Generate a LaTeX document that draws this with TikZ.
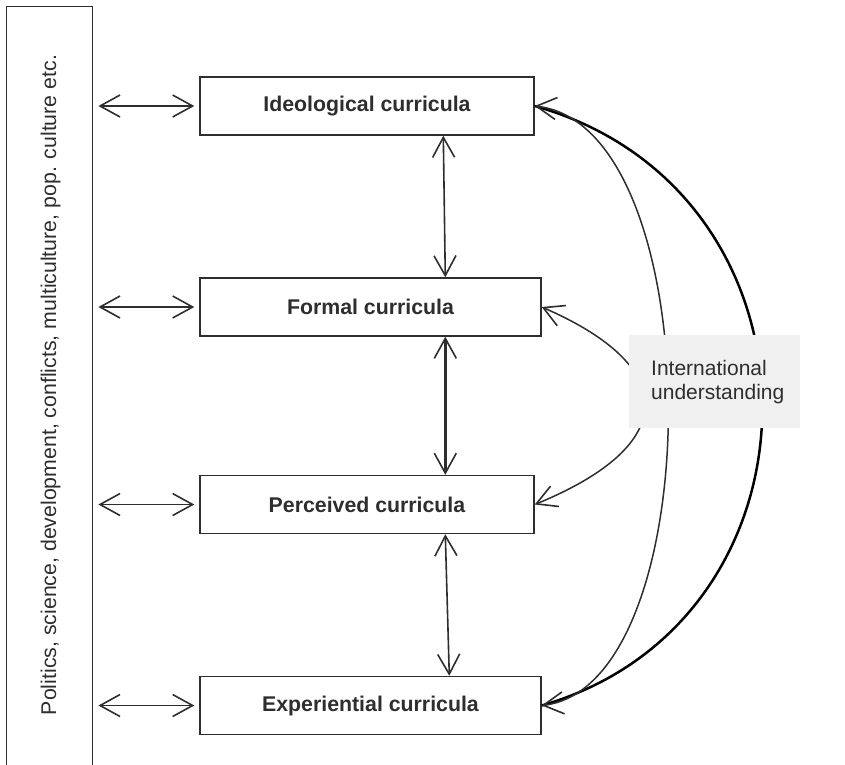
\documentclass[tikz,border=0pt]{standalone}
\usepackage{fontspec}
\setmainfont{Liberation Sans}
\usetikzlibrary{arrows.meta}
\definecolor{ink}{HTML}{2E2E2E}
\definecolor{boxgray}{HTML}{F0F0F0}
\begin{document}
\begin{tikzpicture}[x=1pt,y=-1pt,
  cbox/.style={draw=ink, line width=1.4pt, fill=white, minimum height=58pt, inner sep=0pt,
    font=\fontsize{21.3}{24}\selectfont\bfseries, text=ink},
  barbs/.style={{Straight Barb[length=20pt,width=22pt,line width=1.6pt]}-{Straight Barb[length=20pt,width=22pt,line width=1.6pt]}},
  dblarrow/.style={draw=ink, line width=1.6pt, barbs},
  thinarc/.style={draw=ink, line width=1.5pt, barbs},
  thickarc/.style={draw=black, line width=2.5pt},
]
\useasboundingbox (0,0) rectangle (845,764);

% context box
\node[draw=ink, line width=1.4pt, minimum width=86pt, minimum height=790pt,
      anchor=north west, inner sep=0pt] (ctx) at (6,6) {};
\node[rotate=90, anchor=base, font=\fontsize{21.3}{24}\selectfont, text=ink] (ctxlabel) at (56,385)
  {Politics, science, development, conflicts, multiculture, pop. culture etc.};

% curricula boxes
\node[cbox, minimum width=334pt] (ideo) at (367,106) {Ideological curricula};
\node[cbox, minimum width=341pt] (formal) at (370.5,307) {Formal curricula};
\node[cbox, minimum width=334pt] (perc) at (367,504.5) {Perceived curricula};
\node[cbox, minimum width=341pt] (exp) at (370.5,705.5) {Experiential curricula};

% horizontal arrows
\draw[dblarrow, shorten <=5pt, shorten >=5pt] (ctx.east |- ideo.west) -- (ideo.west);
\draw[dblarrow, shorten <=5pt, shorten >=5pt] (ctx.east |- formal.west) -- (formal.west);
\draw[dblarrow, shorten <=5pt, shorten >=5pt] (ctx.east |- perc.west) -- (perc.west);
\draw[dblarrow, shorten <=5pt, shorten >=5pt] (ctx.east |- exp.west) -- (exp.west);

% vertical arrows
\draw[dblarrow] ([xshift=244pt]ideo.south west) -- ([xshift=246pt]formal.north west);
\draw[dblarrow, line width=2.4pt] ([xshift=246pt]formal.south west) -- ([xshift=246pt]perc.north west);
\draw[dblarrow] ([xshift=246pt]perc.south west) -- ([xshift=250pt]exp.north west);

% arcs
\draw[thickarc] (ideo.east) .. controls (837,191) and (837,620) .. (exp.east);
\draw[thinarc] (ideo.east) .. controls (711,126) and (711,685) .. (exp.east);
\draw[thinarc] (formal.east) .. controls (680,367) and (680,445) .. (perc.east);

% label box
\node[fill=boxgray, anchor=north west, minimum width=171pt, minimum height=93pt,
      inner xsep=22pt, inner ysep=0pt, text width=127pt, align=left,
      font=\fontsize{21}{24}\selectfont, text=ink] (iu) at (629,335)
  {International\\understanding};
\end{tikzpicture}
\end{document}
